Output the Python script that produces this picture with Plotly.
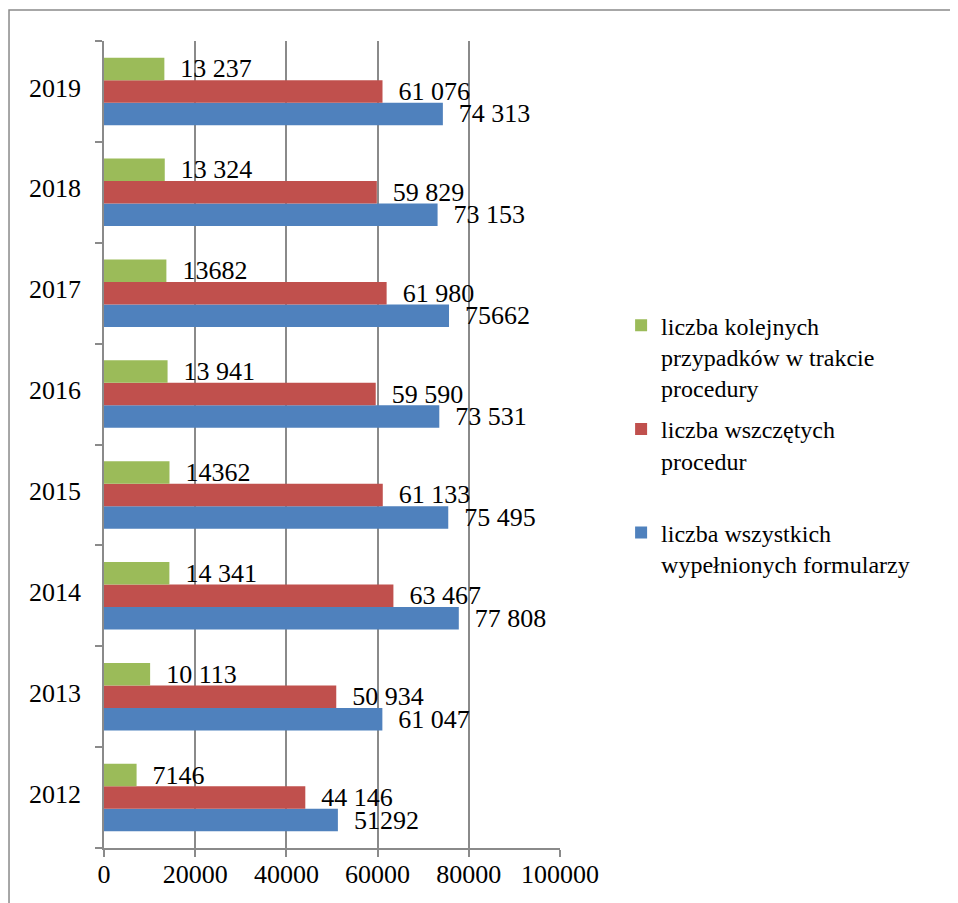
import plotly.graph_objects as go

years = ["2012", "2013", "2014", "2015", "2016", "2017", "2018", "2019"]

kolejnych = [7146, 10113, 14341, 14362, 13941, 13682, 13324, 13237]
kolejnych_labels = ["7146", "10 113", "14 341", "14362", "13 941", "13682", "13 324", "13 237"]

wszczetych = [44146, 50934, 63467, 61133, 59590, 61980, 59829, 61076]
wszczetych_labels = ["44 146", "50 934", "63 467", "61 133", "59 590", "61 980", "59 829", "61 076"]

wszystkich = [51292, 61047, 77808, 75495, 73531, 75662, 73153, 74313]
wszystkich_labels = ["51292", "61 047", "77 808", "75 495", "73 531", "75662", "73 153", "74 313"]

names = {
    "green": "liczba kolejnych<br>przypadków w trakcie<br>procedury",
    "red": "liczba wszczętych<br>procedur<br>\u00a0",
    "blue": "liczba wszystkich<br>wypełnionych formularzy",
}

FONT = "Liberation Serif, Tinos, Times New Roman, Times, DejaVu Serif, serif"
PAD = "\u00a0\u00a0"

fig = go.Figure()
series = [
    (wszystkich, wszystkich_labels, names["blue"], "#4F81BD", "g3", 3),
    (wszczetych, wszczetych_labels, names["red"], "#C0504D", "g2", 2),
    (kolejnych, kolejnych_labels, names["green"], "#9BBB59", "g1", 1),
]
for vals, labels, name, color, grp, rank in series:
    fig.add_trace(go.Bar(
        x=vals, y=years, orientation="h", name=name, legendgroup=grp,
        legendrank=rank,
        marker=dict(color=color, line=dict(width=0)),
        text=[PAD + t for t in labels],
        textposition="outside", constraintext="none", cliponaxis=False,
        textfont=dict(family=FONT, size=26, color="black"),
        hoverinfo="skip",
    ))

fig.update_layout(
    width=958, height=903,
    margin=dict(l=96, r=406, t=33, b=63, autoexpand=False),
    paper_bgcolor="white", plot_bgcolor="white",
    barmode="group", bargap=0.33, bargroupgap=0,
    font=dict(family=FONT, size=26, color="black"),
    legend=dict(
        x=1.134, xanchor="left", y=0.675, yanchor="top",
        traceorder="grouped", valign="top", tracegroupgap=7,
        font=dict(family=FONT, size=24, color="black"),
        bgcolor="rgba(0,0,0,0)",
    ),
    shapes=[dict(
        type="rect", xref="paper", yref="paper",
        x0=-0.2083, x1=1.95, y0=-0.12, y1=1.0384,
        line=dict(color="#8a8a8a", width=1.5), fillcolor="rgba(0,0,0,0)",
        layer="below",
    )],
)

fig.update_xaxes(
    range=[0, 100000], dtick=20000, tick0=0,
    showgrid=True, gridcolor="#8a8a8a", gridwidth=1.5,
    showline=True, linecolor="#8a8a8a", linewidth=1.5,
    ticks="outside", ticklen=7, tickcolor="#8a8a8a", tickwidth=1.5,
    tickformat="d", zeroline=False, automargin=False,
    tickfont=dict(family=FONT, size=26, color="black"),
    ticklabelstandoff=-5,
)
fig.update_yaxes(
    type="category", categoryorder="array", categoryarray=years,
    showline=True, linecolor="#8a8a8a", linewidth=1.5,
    ticks="outside", ticklen=7, tickcolor="#8a8a8a", tickwidth=1.5,
    tickson="boundaries", showgrid=False, automargin=False,
    tickfont=dict(family=FONT, size=26, color="black"),
    ticklabelstandoff=16, ticklabelshift=-4,
)

fig.write_html("out.html")
